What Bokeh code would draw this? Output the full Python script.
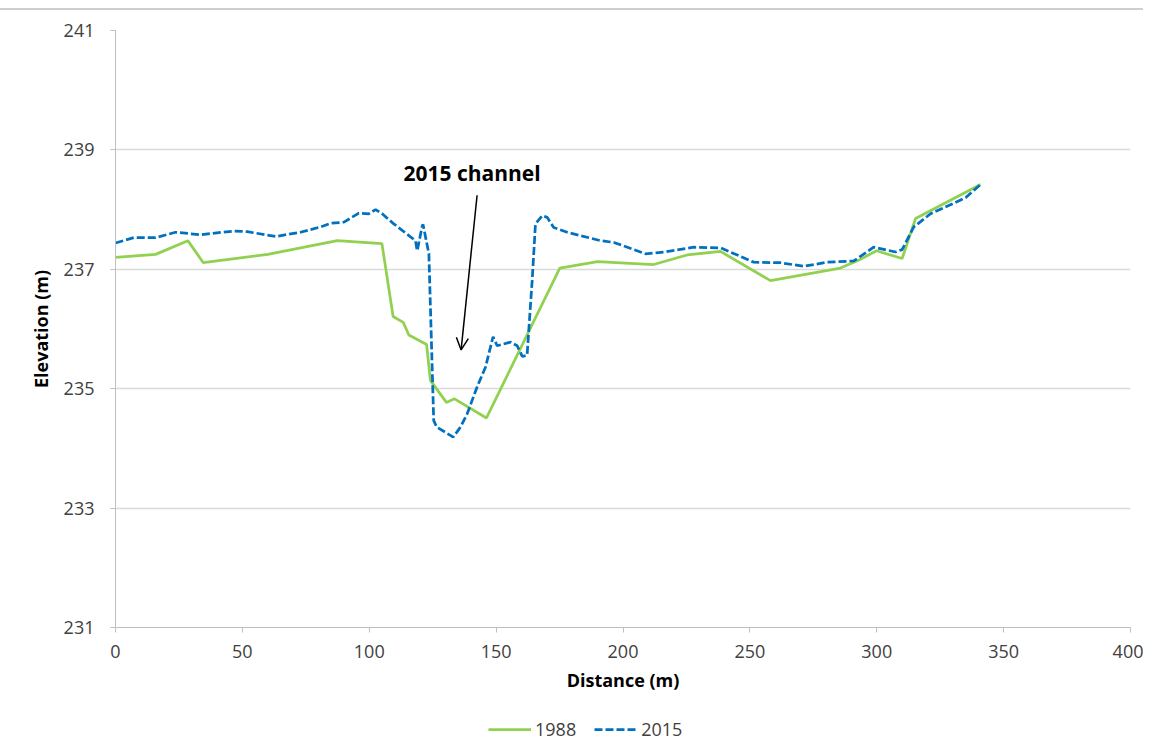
from bokeh.plotting import figure
from bokeh.layouts import column
from bokeh.models import (Legend, LegendItem, Range1d, FixedTicker, Arrow, OpenHead, Label)
from bokeh.embed import file_html
from bokeh.resources import INLINE

# ---- data ----
dist_1988 = [0, 15.8, 28.5, 34.6, 60, 87.4, 105.0, 109.4, 113.4, 115.6, 122.6, 124.1,
             130.4, 133.6, 146.2, 175.1, 190, 212.1, 225.3, 238.4, 258.1, 285.7, 292.8,
             299.9, 310.0, 315.3, 340.9]
elev_1988 = [237.20, 237.25, 237.48, 237.11, 237.25, 237.48, 237.43, 236.21, 236.11, 235.90,
             235.74, 235.14, 234.77, 234.83, 234.51, 237.02, 237.13, 237.08, 237.24, 237.30,
             236.81, 237.02, 237.15, 237.31, 237.18, 237.85, 238.42]

dist_2015 = [0, 7.2, 15.8, 23.6, 33.5, 46.6, 51.9, 63.1, 72.9, 80.8, 84.7, 90.0, 95.9, 99.8,
             102.5, 105.1, 109.7, 118.2, 118.9, 120.9, 121.2, 123.5, 125.4, 126.5, 133.1,
             136.0, 138.6, 142.5, 145.8, 148.8, 150.4, 155.7, 158.3, 160.3, 162.2, 164.2,
             165.5, 168.2, 170.1, 172.7, 178.0, 191.1, 196.4, 208.9, 216.1, 227.9, 238.4,
             251.5, 262.1, 271.3, 280.5, 291.0, 298.8, 307.4, 310.0, 314.6, 321.2, 329.0,
             335.0, 340.9]
elev_2015 = [237.44, 237.53, 237.53, 237.62, 237.58, 237.64, 237.63, 237.55, 237.62, 237.71,
             237.77, 237.79, 237.94, 237.93, 238.00, 237.93, 237.76, 237.48, 237.31, 237.73,
             237.75, 237.26, 234.47, 234.36, 234.19, 234.36, 234.58, 235.03, 235.36, 235.87,
             235.72, 235.78, 235.72, 235.54, 235.56, 236.81, 237.76, 237.90, 237.87, 237.70,
             237.62, 237.48, 237.45, 237.26, 237.29, 237.37, 237.36, 237.12, 237.11, 237.05,
             237.12, 237.14, 237.37, 237.29, 237.33, 237.71, 237.93, 238.08, 238.20, 238.42]

series_labels = ["1988", "2015"]
x_ticks = [0, 50, 100, 150, 200, 250, 300, 350, 400]
y_ticks = [231, 233, 235, 237, 239, 241]

annot_text = "2015 channel"
annot_pos = (140.5, 238.62)
arrow_start = (142.5, 238.24)
arrow_end = (136.2, 235.65)

FONT = "Open Sans"
GREEN = "#92d050"
BLUE = "#0070c0"
LW = 2.75
DASH = "8 3"

# ---- main figure ----
p = figure(width=1143, height=703, output_backend="svg", toolbar_location=None,
           x_range=Range1d(0, 400), y_range=Range1d(231, 241),
           min_border_left=115, min_border_right=13, min_border_top=30, min_border_bottom=76)
p.border_fill_alpha = 0
p.styles = {"background": "linear-gradient(to bottom, #ffffff 0px, #ffffff 8px, "
                          "#cfcfcf 8px, #cfcfcf 10px, #ffffff 10px)"}
p.outline_line_color = None
p.background_fill_color = "white"

for ax in (p.xaxis[0], p.yaxis[0]):
    ax.axis_line_color = "#bfbfbf"
    ax.major_tick_line_color = "#bfbfbf"
    ax.minor_tick_line_color = None
    ax.major_tick_in = 0
    ax.major_tick_out = 5
    ax.major_label_text_font = FONT
    ax.major_label_text_font_size = "18px"
    ax.major_label_text_color = "#404040"
    ax.axis_label_text_font = FONT
    ax.axis_label_text_font_size = "18px"
    ax.axis_label_text_font_style = "bold"
    ax.axis_label_text_color = "#000000"

p.xaxis.ticker = FixedTicker(ticks=x_ticks)
p.yaxis.ticker = FixedTicker(ticks=y_ticks)
p.xaxis.axis_label = "Distance (m)"
p.yaxis.axis_label = "Elevation (m)"
p.xaxis.major_label_standoff = 12
p.xaxis.axis_label_standoff = 7
p.yaxis.major_label_standoff = 16
p.yaxis.axis_label_standoff = 8

p.xgrid.grid_line_color = None
p.ygrid.grid_line_color = "#d9d9d9"
p.ygrid.grid_line_width = 1.5

p.line(dist_1988, elev_1988, line_color=GREEN, line_width=LW)
p.line(dist_2015, elev_2015, line_color=BLUE, line_width=LW, line_dash=DASH)

p.add_layout(Label(x=annot_pos[0], y=annot_pos[1], text=annot_text, text_font=FONT,
                   text_font_style="bold", text_font_size="21px", text_align="center",
                   text_baseline="middle", text_color="#000000"))
p.add_layout(Arrow(x_start=arrow_start[0], y_start=arrow_start[1], x_end=arrow_end[0],
                   y_end=arrow_end[1], line_color="black", line_width=1.5,
                   end=OpenHead(size=12, line_color="black", line_width=1.5)))

# ---- legend strip (same series, drawn outside its visible range) ----
lg = figure(width=1143, height=40, output_backend="svg", toolbar_location=None,
            x_range=Range1d(1000, 1001), y_range=Range1d(0, 1),
            x_axis_location=None, y_axis_location=None,
            min_border_left=0, min_border_right=0, min_border_top=0, min_border_bottom=0)
lg.outline_line_color = None
lg.grid.grid_line_color = None
lg.border_fill_alpha = 0
lg.background_fill_alpha = 0
l88 = lg.line(dist_1988, elev_1988, line_color=GREEN, line_width=LW)
l15 = lg.line(dist_2015, elev_2015, line_color=BLUE, line_width=LW, line_dash=DASH)

legend = Legend(items=[LegendItem(label=series_labels[0], renderers=[l88]),
                       LegendItem(label=series_labels[1], renderers=[l15])],
                orientation="horizontal", location=(373, 2),
                label_text_font=FONT, label_text_font_size="18px", label_text_color="#404040",
                glyph_width=43, label_standoff=4, spacing=18, border_line_color=None,
                background_fill_alpha=0, margin=0, padding=2)
lg.add_layout(legend, "center")

layout = column(p, lg, spacing=0)
open("out.html", "w").write(file_html(layout, INLINE))
